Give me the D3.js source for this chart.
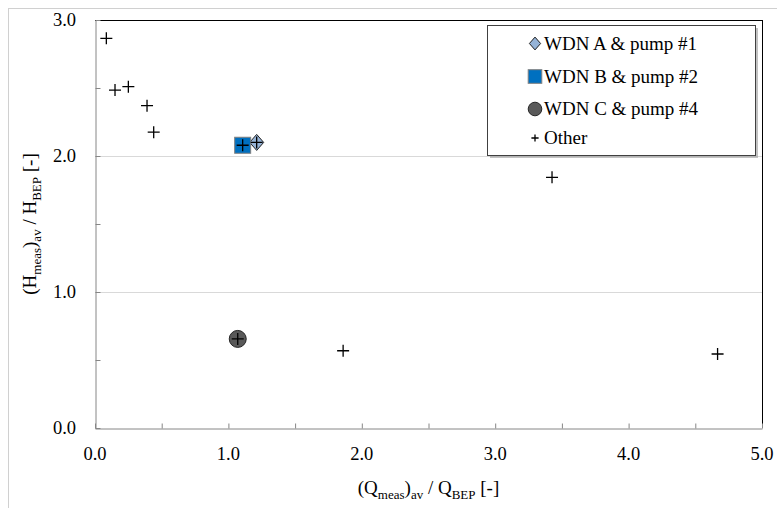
<!DOCTYPE html>
<html><head><meta charset="utf-8">
<script src="https://cdn.jsdelivr.net/npm/d3@7"></script>
</head><body style="margin:0;background:#fff">
<svg id="c" width="777" height="508"></svg>
<script>
const xTicks = [0,1,2,3,4,5];
const yTicks = [0,1,2,3];
const otherX = [0.085,0.15,0.25,0.39,0.44,1.107,1.212,3.426,1.07,1.86,4.667];
const otherY = [2.865,2.485,2.51,2.37,2.175,2.079,2.10,1.843,0.655,0.568,0.544];
const seriesNames = ["WDN A & pump #1","WDN B & pump #2","WDN C & pump #4","Other"];
const seriesA = [[1.212,2.10]];
const seriesB = [[1.107,2.079]];
const seriesC = [[1.07,0.655]];

const svg = d3.select("#c");
const L=95,R=762,T=20,B=428;
const x = d3.scaleLinear().domain([0,5]).range([L,R]);
const y = d3.scaleLinear().domain([0,3]).range([B,T]);
const FF = '"Liberation Serif"';

svg.append("rect").attr("x",8.5).attr("y",8.5).attr("width",800).attr("height",600)
  .attr("fill","none").attr("stroke","#d0d0d0");

svg.append("g").selectAll("line").data([1,2]).join("line")
  .attr("x1",L).attr("x2",R).attr("y1",d=>y(d)+0.5).attr("y2",d=>y(d)+0.5)
  .attr("stroke","#d9d9d9").attr("stroke-width",1);
svg.append("line").attr("x1",L).attr("x2",R).attr("y1",T+0.5).attr("y2",T+0.5).attr("stroke","#000");
svg.append("line").attr("x1",R+0.5).attr("x2",R+0.5).attr("y1",T).attr("y2",B).attr("stroke","#000");

const xAxis = svg.append("g").attr("transform",`translate(0,${B+0.5})`)
  .call(d3.axisBottom(x).tickValues(d3.range(0,5.01,0.5)).tickSizeInner(-5).tickSizeOuter(0).tickFormat(""));
xAxis.select(".domain").attr("stroke","#868686");
xAxis.selectAll("line").attr("stroke","#868686");
const yAxis = svg.append("g").attr("transform",`translate(${L+0.5},0)`)
  .call(d3.axisLeft(y).tickValues(d3.range(0,3.01,0.5)).tickSizeInner(-5).tickSizeOuter(0).tickFormat(""));
yAxis.select(".domain").attr("stroke","#868686");
yAxis.selectAll("line").attr("stroke","#868686");

function serifText(sel){ sel.style("font-family",FF); }
svg.append("g").selectAll("text").data(xTicks).join("text").call(serifText)
  .attr("x",d=>x(d)).attr("y",460).attr("text-anchor","middle").attr("font-size",18.5)
  .append("tspan").call(serifText).text(d=>d3.format(".1f")(d));
svg.append("g").selectAll("text").data(yTicks).join("text").call(serifText)
  .attr("x",76).attr("y",d=>y(d)+6).attr("text-anchor","end").attr("font-size",18.5)
  .append("tspan").call(serifText).text(d=>d3.format(".1f")(d));

function title(t, main){
  const parts=[["(",0],[main,0],["meas",1],[")",0],["av",1],[" / "+main,0],["BEP",1],[" [-]",0]];
  let prev=0;
  parts.forEach(([s,sub])=>{
    const ts=t.append("tspan").call(serifText).text(s);
    if(sub){ts.attr("font-size",13);}
    const dy=(sub?5:0)-prev; if(dy) ts.attr("dy",dy);
    prev=sub?5:0;
  });
}
const xt = svg.append("text").call(serifText).attr("x",(L+R)/2).attr("y",494).attr("text-anchor","middle").attr("font-size",19);
title(xt,"Q");
const yt = svg.append("text").call(serifText).attr("transform",`translate(36,${(T+B)/2}) rotate(-90)`).attr("text-anchor","middle").attr("font-size",19);
title(yt,"H");

const diamond = (cx,cy,w,h)=>`M${cx},${cy-h/2}L${cx+w/2},${cy}L${cx},${cy+h/2}L${cx-w/2},${cy}Z`;
function drawA(g,cx,cy,s){g.append("path").attr("d",diamond(cx,cy,14*s,16*s)).attr("fill","#95b3d7").attr("stroke","#1f1f1f").attr("stroke-width",1);}
function drawB(g,cx,cy,s){g.append("rect").attr("x",cx-8*s).attr("y",cy-8*s).attr("width",16*s).attr("height",16*s).attr("fill","#0070c0").attr("stroke","#7f7f7f").attr("stroke-width",1);}
function drawC(g,cx,cy,s){g.append("circle").attr("cx",cx).attr("cy",cy).attr("r",8.5*s).attr("fill","#595959").attr("stroke","#262626").attr("stroke-width",1);}
function drawP(g,cx,cy,s){g.append("path").attr("d",`M${cx-6*s},${cy}H${cx+6*s}M${cx},${cy-6*s}V${cy+6*s}`).attr("stroke","#000").attr("stroke-width",1.3).attr("fill","none");}

const gm = svg.append("g");
seriesA.forEach(d=>drawA(gm,x(d[0]),y(d[1]),1));
seriesB.forEach(d=>drawB(gm,x(d[0]),y(d[1]),1));
seriesC.forEach(d=>drawC(gm,x(d[0]),y(d[1]),1));
otherX.forEach((v,i)=>drawP(gm,x(v),y(otherY[i]),1));

const lg = svg.append("g");
lg.append("rect").attr("x",490).attr("y",28).attr("width",268).attr("height",130).attr("fill","#9a9a9a").attr("opacity",0.6);
lg.append("rect").attr("x",487.5).attr("y",25.5).attr("width",268).attr("height",130).attr("fill","#fff").attr("stroke","#404040");
const rows=[43.5,76.5,109,138];
drawA(lg,535,rows[0],0.8);
drawB(lg,535,rows[1],0.85);
drawC(lg,535,rows[2],0.8);
drawP(lg,535,rows[3],0.6);
lg.selectAll("text.l").data(seriesNames).join("text").attr("class","l").call(serifText)
  .attr("x",544).attr("y",(d,i)=>rows[i]+6).attr("font-size",19)
  .append("tspan").call(serifText).text(d=>d);
</script>
</body></html>
